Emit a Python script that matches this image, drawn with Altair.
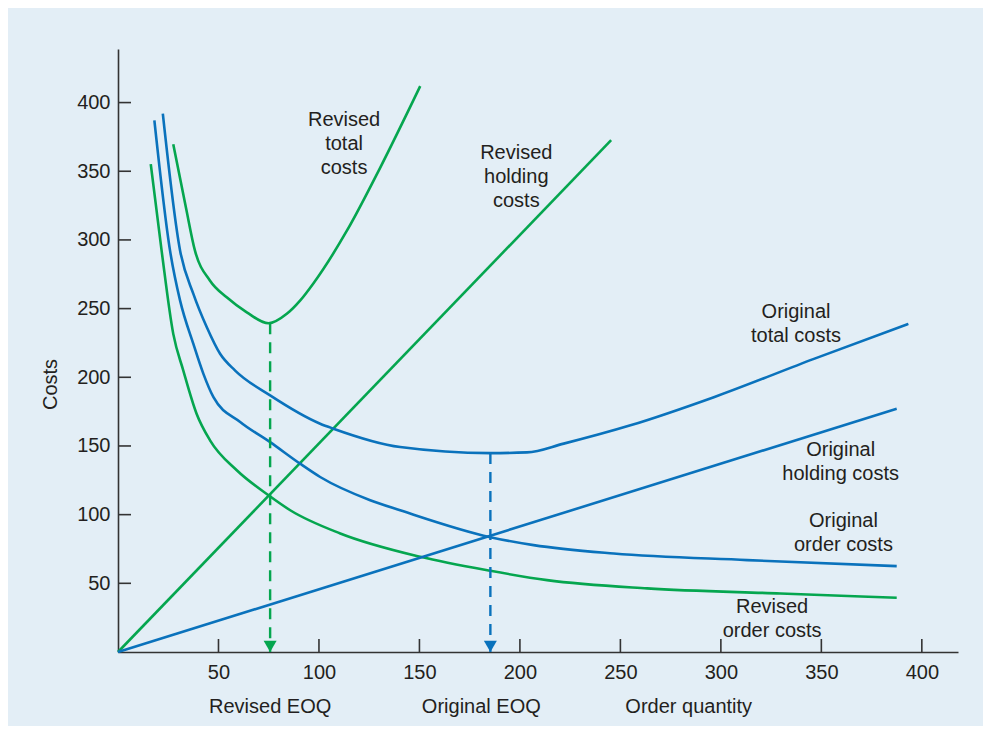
import altair as alt
import pandas as pd

# ---------------- data ----------------
x_ticks = [50, 100, 150, 200, 250, 300, 350, 400]
y_ticks = [50, 100, 150, 200, 250, 300, 350, 400]

rev_total_x = [27.5, 33.8, 38.3, 45.8, 54.1, 64.1, 74.9, 84.0, 90.6, 97.3, 113.9, 130.5, 150.4]
rev_total_y = [369.7, 323.6, 292.2, 270.3, 258.2, 247.3, 239.3, 246.2, 255.8, 268.5, 306.7, 352.7, 412.0]

rev_hold_x = [0, 245.4]
rev_hold_y = [0, 372.6]

rev_order_x = [16.3, 21.7, 27.5, 32.5, 39.1, 45.8, 59.1, 74.9, 85.7, 110.6, 150.4, 185.3, 213.5, 263.3, 329.7, 387.5]
rev_order_y = [355.2, 292.2, 231.6, 204.9, 173.5, 154.1, 132.3, 114.1, 103.2, 86.3, 69.3, 59.1, 52.3, 46.3, 42.6, 39.5]

orig_total_x = [22.3, 30.9, 37.5, 44.2, 50.8, 58.3, 75.7, 100.6, 107.2, 140.4, 185.3, 203.5, 221.8, 255.0, 296.5, 346.3, 393.3]
orig_total_y = [391.9, 292.2, 260.7, 236.4, 217.1, 204.9, 186.8, 166.2, 162.6, 149.2, 144.8, 145.3, 151.7, 165.0, 185.5, 213.4, 238.9]

orig_hold_x = [0, 387.5]
orig_hold_y = [0, 177.1]

orig_order_x = [18.1, 25.9, 30.9, 37.5, 42.5, 47.5, 60.8, 75.7, 90.6, 100.6, 125.5, 140.4, 185.3, 206.8, 246.7, 313.1, 387.5]
orig_order_y = [387.1, 292.2, 255.8, 224.3, 202.5, 185.5, 167.5, 152.8, 137.1, 127.4, 110.5, 103.2, 83.6, 77.8, 71.7, 66.9, 62.5]

eoq_family = ["Revised", "Original"]
eoq_x = [75.7, 185.3]
eoq_cost = [239.3, 144.8]

label_text = ["Revised\ntotal\ncosts", "Revised\nholding\ncosts", "Original\ntotal costs",
              "Original\nholding costs", "Original\norder costs", "Revised\norder costs"]
label_x = [112.5, 198.2, 337.4, 359.6, 361.0, 325.5]
label_y = [387.4, 363.4, 247.8, 146.8, 95.2, 32.7]

bottom_text = ["Revised EOQ", "Original EOQ", "Order quantity"]
bottom_x = [75.7, 180.8, 284.0]

# ---------------- styles ----------------
BLUE = "#0A72BC"
GREEN = "#05A64F"
TEXT = "#231F20"
AXIS = "#333333"
BG = "#E3EEF6"
FONT = "Liberation Sans"

rows = []
for name, fam, xs, ys in [
    ("rev_total", "Revised", rev_total_x, rev_total_y),
    ("rev_hold", "Revised", rev_hold_x, rev_hold_y),
    ("rev_order", "Revised", rev_order_x, rev_order_y),
    ("orig_total", "Original", orig_total_x, orig_total_y),
    ("orig_hold", "Original", orig_hold_x, orig_hold_y),
    ("orig_order", "Original", orig_order_x, orig_order_y),
]:
    for i, (xv, yv) in enumerate(zip(xs, ys)):
        rows.append({"series": name, "family": fam, "x": xv, "y": yv, "order": i})
lines_df = pd.DataFrame(rows)

eoq_df = pd.DataFrame({"family": eoq_family, "x": eoq_x, "cost": eoq_cost})
labels_df = pd.DataFrame({"text": label_text, "x": label_x, "y": label_y})
bottom_df = pd.DataFrame({"text": bottom_text, "x": bottom_x})
xt_df = pd.DataFrame({"t": x_ticks})
yt_df = pd.DataFrame({"t": y_ticks})

x_scale = alt.Scale(domain=[0, 418], nice=False, zero=False)
y_scale = alt.Scale(domain=[0, 439], nice=False, zero=False)
color_scale = alt.Scale(domain=["Original", "Revised"], range=[BLUE, GREEN])

x_axis = alt.Axis(values=x_ticks, ticks=False, tickSize=0, grid=False, title=None,
                  labelPadding=10, labelFontSize=20, labelColor=TEXT, labelFont=FONT,
                  domainColor=AXIS, domainWidth=1.6, labelFlush=False)
y_axis = alt.Axis(values=y_ticks, ticks=False, tickSize=0, grid=False, title="Costs",
                  labelPadding=8, labelFontSize=20, labelColor=TEXT, labelFont=FONT,
                  domainColor=AXIS, domainWidth=1.6, labelFlush=False,
                  titleFontSize=20, titleFontWeight="normal", titleColor=TEXT, titleFont=FONT,
                  titleX=-68, titleY=335, titleAngle=270, titleAlign="center",
                  titleBaseline="middle")

X = lambda f: alt.X(f, scale=x_scale, axis=x_axis)
Y = lambda f: alt.Y(f, scale=y_scale, axis=y_axis)
COL = alt.Color("family:N", scale=color_scale, legend=None)

lines = alt.Chart(lines_df).mark_line(strokeWidth=2.6, interpolate="monotone").encode(
    x=X("x:Q"), y=Y("y:Q"), color=COL, detail="series:N", order="order:Q",
)

xticks = alt.Chart(xt_df).mark_rule(color=AXIS, strokeWidth=1.6).encode(
    x=X("t:Q"), y=alt.value(603), y2=alt.value(590),
)
yticks = alt.Chart(yt_df).mark_rule(color=AXIS, strokeWidth=1.6).encode(
    y=Y("t:Q"), x=alt.value(0), x2=alt.value(13),
)

eoq_rules = alt.Chart(eoq_df).mark_rule(strokeWidth=2.4, strokeDash=[11, 8]).encode(
    x=X("x:Q"), y=Y("cost:Q"), y2=alt.datum(0), color=COL,
)
arrows = alt.Chart(eoq_df).mark_point(shape="triangle-down", filled=True, size=169,
                                      opacity=1, yOffset=-5.6).encode(
    x=X("x:Q"), y=alt.datum(0), color=COL,
)

labels = alt.Chart(labels_df).mark_text(fontSize=20, font=FONT, color=TEXT, lineBreak="\n",
                                        lineHeight=24, align="center", baseline="middle").encode(
    x=X("x:Q"), y=Y("y:Q"), text="text:N",
)
bottom = alt.Chart(bottom_df).mark_text(fontSize=20, font=FONT, color=TEXT, align="center",
                                        baseline="middle", yOffset=55).encode(
    x=X("x:Q"), y=alt.datum(0), text="text:N",
)

chart = alt.layer(lines, xticks, yticks, eoq_rules, arrows, labels, bottom).properties(
    width=840, height=603,
    padding={"left": 110, "top": 41, "right": 25, "bottom": 74},
    autosize="none",
    background=BG,
).configure_view(stroke=None)

chart.save("out.html", embed_options={"renderer": "svg", "actions": False})
